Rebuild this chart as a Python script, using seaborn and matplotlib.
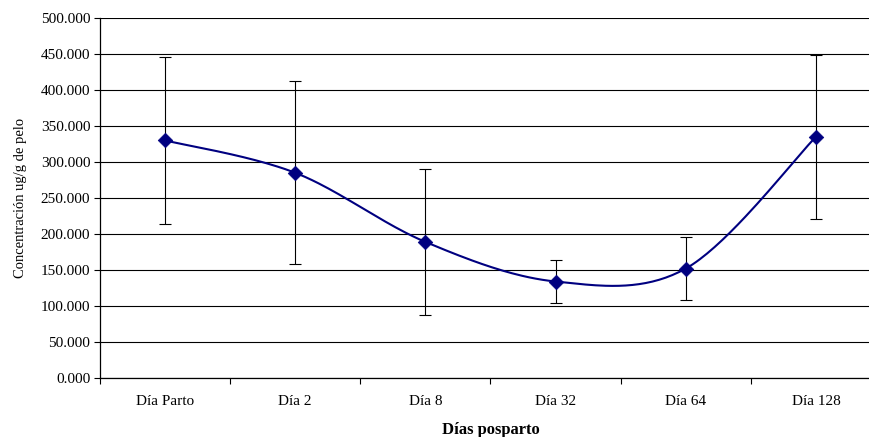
import numpy as np
import pandas as pd
import matplotlib
matplotlib.use("Agg")
import matplotlib.pyplot as plt
from matplotlib.ticker import FormatStrFormatter, MultipleLocator, FixedLocator
import seaborn as sns

categories = ["Día Parto", "Día 2", "Día 8", "Día 32", "Día 64", "Día 128"]
means = [330, 285, 189, 134, 152, 335]
sds = [116, 127, 101, 30, 44, 114]

sns.set_theme(style="white")
plt.rcParams["font.family"] = ["Liberation Serif", "DejaVu Serif"]

fig = plt.figure(figsize=(8.7, 4.37), dpi=100)
W, H = 870, 437
ax = fig.add_axes([100 / W, 59 / H, 781 / W, 360 / H])

x = np.arange(len(categories), dtype=float)
y = np.array(means, dtype=float)

# Excel-style smoothed line (Bezier through points), computed in display-scaled space
sx, sy = 130.0, 0.72
px, py = x * sx, y * sy
P = np.column_stack([px, py])
Pe = np.vstack([P[0], P, P[-1]])
curve = []
t = np.linspace(0, 1, 40)
for i in range(len(P) - 1):
    p0, p1 = P[i], P[i + 1]
    c1 = p0 + (Pe[i + 2] - Pe[i]) / 6.0
    c2 = p1 - (Pe[i + 3] - Pe[i + 1]) / 6.0
    seg = ((1 - t) ** 3)[:, None] * p0 + (3 * (1 - t) ** 2 * t)[:, None] * c1 \
        + (3 * (1 - t) * t ** 2)[:, None] * c2 + (t ** 3)[:, None] * p1
    curve.append(seg if i == 0 else seg[1:])
curve = np.vstack(curve)
df_curve = pd.DataFrame({"x": curve[:, 0] / sx, "y": curve[:, 1] / sy,
                         "o": np.arange(len(curve))})
df_pts = pd.DataFrame({"x": x, "y": y, "cat": categories})

ax.set_xlim(-0.5, 5.5)
ax.set_ylim(0, 500)

# gridlines
ax.yaxis.set_major_locator(MultipleLocator(50))
ax.grid(axis="y", color="black", linewidth=0.8)
ax.set_axisbelow(True)

ax.errorbar(x, y, yerr=sds, fmt="none", ecolor="black", elinewidth=0.8,
            capsize=4.5, capthick=0.8, zorder=3)
sns.lineplot(data=df_curve, x="x", y="y", sort=False, estimator=None,
             color="#000080", linewidth=1.5, ax=ax, zorder=4)
sns.scatterplot(data=df_pts, x="x", y="y", marker="D", s=55, color="#000080",
                edgecolor="#000080", linewidth=0.5, ax=ax, zorder=5)

ax.yaxis.set_major_formatter(FormatStrFormatter("%.3f"))
ax.set_xticks(x)
ax.set_xticklabels(categories)
ax.xaxis.set_minor_locator(FixedLocator(np.arange(-0.5, 6.0, 1.0)))
ax.tick_params(axis="x", which="major", length=0, pad=12, labelsize=11, colors="black")
ax.tick_params(axis="x", which="minor", length=4, width=0.8, direction="out",
               bottom=True, color="black")
ax.tick_params(axis="y", which="major", length=4, width=0.8, direction="out",
               left=True, pad=3, labelsize=11, colors="black")

for s in ["top", "right"]:
    ax.spines[s].set_visible(False)
for s in ["left", "bottom"]:
    ax.spines[s].set_color("black")
    ax.spines[s].set_linewidth(0.9)

ax.set_xlabel("Días posparto", fontsize=12, fontweight="bold", labelpad=10, color="black")
ax.set_ylabel("Concentración ug/g de pelo", fontsize=10.5, labelpad=10, color="black")

fig.savefig("out.png", dpi=100)
